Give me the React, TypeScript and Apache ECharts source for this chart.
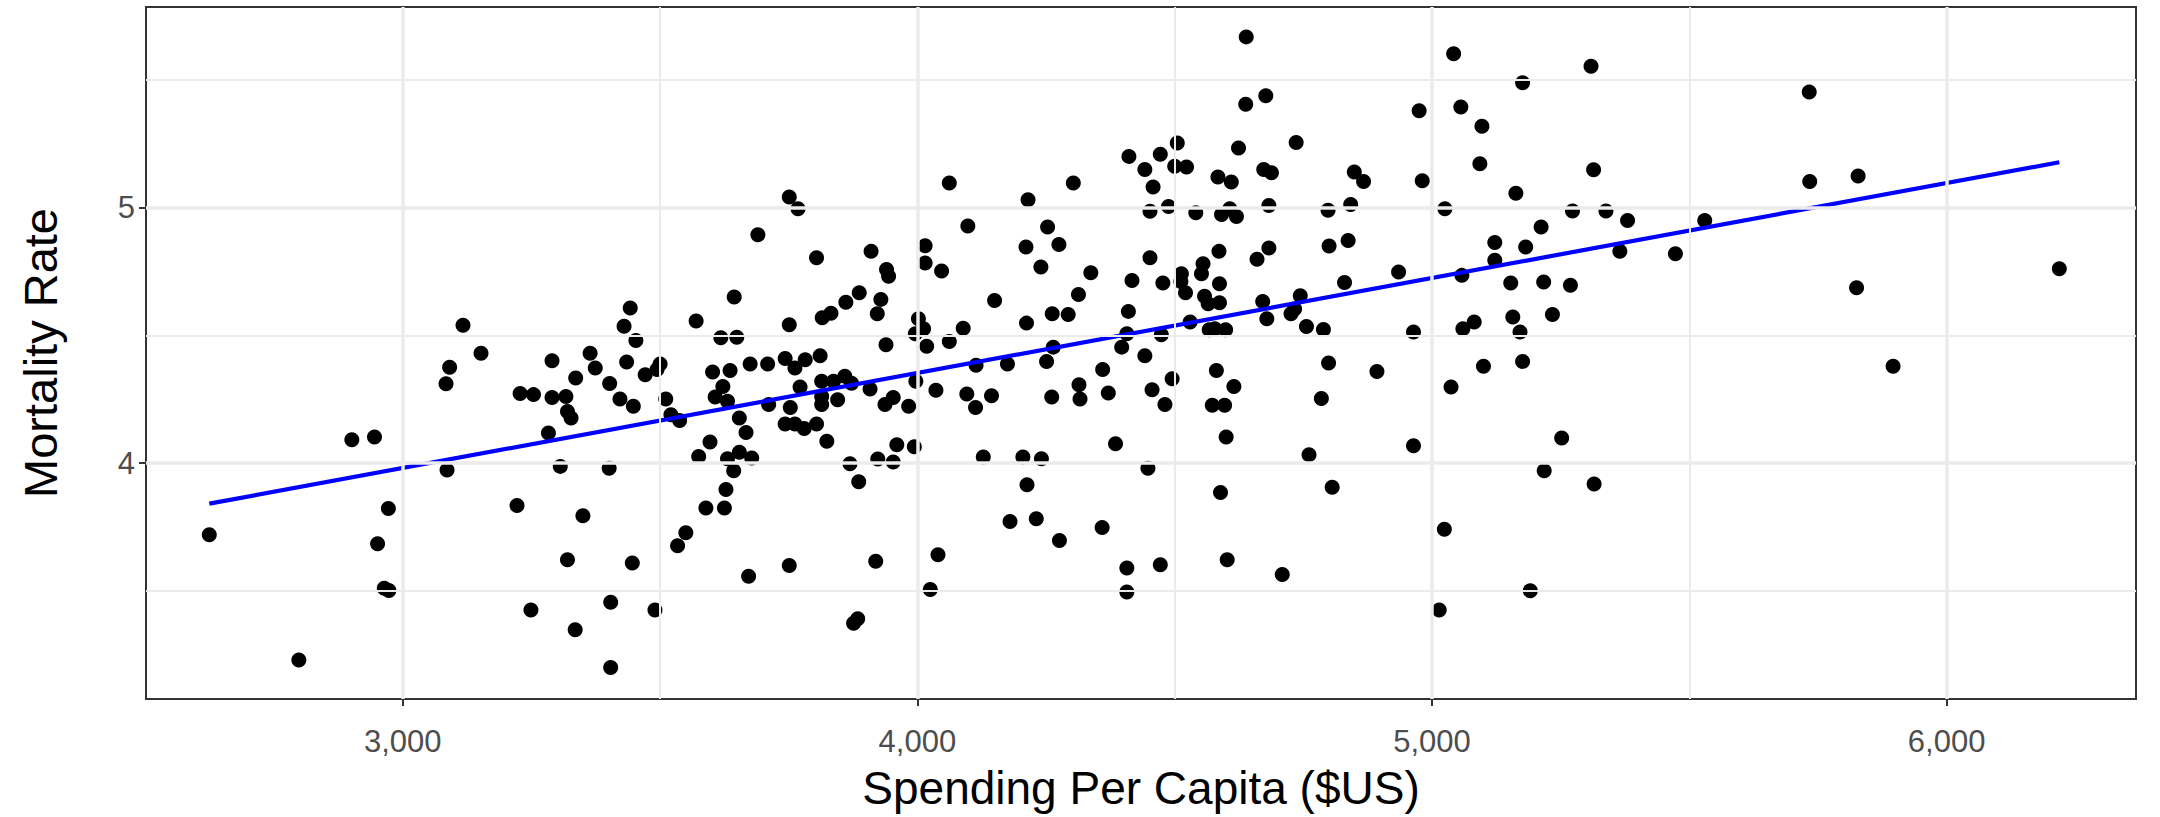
import React, { useEffect, useRef } from "react";
import * as echarts from "echarts";

// Spending per capita ($US) and mortality rate
const spending = [
  3117, 3152, 3091, 3084, 2901, 2945, 3086, 2972, 2951, 2964, 2973, 2624, 2798,
  3751, 3768, 3690, 3644, 3570, 3751, 3618, 3649, 3442, 3430, 3453,
  3364, 3290, 3374, 3435, 3336, 3228, 3254, 3290, 3317, 3402, 3422, 3448, 3471, 3494, 3500,
  3320, 3327, 3283, 3511, 3521, 3538, 3602, 3636, 3675, 3709, 3743, 3762, 3782, 3622, 3607,
  3631, 3654, 3667, 3711, 3753, 3772, 3743, 3762, 3780, 3597, 3575, 3631, 3654, 3678, 3643,
  3628, 3589, 3625, 3306, 3401, 3222, 3350, 3550, 3534, 3320, 3446, 3672, 3751, 3249, 3404,
  3490, 3335, 3404,
  4062, 4215, 4303, 4411, 4098, 4253, 4211, 4275, 4240, 4015, 4015, 4047, 3804, 3910, 3940,
  3944, 3887, 3861, 3929, 3922, 3832, 3815, 4150, 4337, 4313, 4417, 4410, 4212, 4262, 4293,
  4002, 4012, 3996, 4089, 4062, 4018, 3939, 3811, 4407, 4397, 4264,
  3814, 3837, 3859, 3872, 3814, 3814, 3845, 3908, 3937, 3953, 3983, 3997, 4036, 3804, 3824,
  3869, 3886, 3923, 3953, 3960, 3994, 4096, 4113, 4144, 4114, 4175, 4251, 4261, 4314, 4316,
  4360, 4371, 4385, 4128, 4205, 4241, 4213, 4180, 4231, 4276, 4359, 4407, 4407, 3919, 4040,
  4025, 3876, 3884,
  4639, 5042, 4677, 4638, 4975, 5056, 4505, 4472, 4442, 4500, 4523, 4624, 4736, 4458, 4584,
  4610, 4673, 4688, 4849, 4867, 4981, 4452, 4488, 4541, 4591, 4607, 4620, 4683, 4798, 4842,
  5025, 4452, 4586, 4555, 4552, 4513, 4512, 4521, 4477, 4587, 4558, 4565, 4587, 4660, 4683,
  4800, 4837, 4671, 4679, 4744, 4733, 4726, 4756, 4789, 4830, 4935, 5058, 4964, 5060, 4530,
  4474, 4567, 4578, 4599, 4442,
  4495, 4456, 4481, 4581, 4615, 4573, 4597, 4600, 4448, 4799, 4893, 4785, 4761, 4964, 5037,
  4589, 4806, 5024, 4472, 4602, 4709, 5014,
  5309, 5176, 5097, 5093, 5314, 5163, 5273, 5338, 5380, 5530, 5212, 5122, 5182, 5122, 5365,
  5473, 5153, 5217, 5269, 5082, 5157, 5234, 5171,
  5100, 5176, 5252, 5218, 5315, 5191,
  5733, 5734, 5828, 5825, 6219, 5896,
];

const mortality = [
  4.54, 4.43, 4.375, 4.311, 4.091, 4.102, 3.973, 3.822, 3.684, 3.51, 3.501, 3.719, 3.229,
  5.042, 4.996, 4.894, 4.65, 4.556, 4.542, 4.491, 4.493, 4.607, 4.536, 4.48,
  4.43, 4.401, 4.372, 4.396, 4.333, 4.272, 4.268, 4.257, 4.261, 4.312, 4.251, 4.222, 4.346, 4.366, 4.388,
  4.202, 4.176, 4.118, 4.251, 4.189, 4.167, 4.357, 4.362, 4.388, 4.388, 4.409, 4.372, 4.405, 4.3, 4.259,
  4.242, 4.176, 4.12, 4.229, 4.218, 4.298, 4.153, 4.153, 4.135, 4.082, 4.026, 4.017, 4.042, 4.02, 3.97,
  3.896, 3.824, 3.824, 3.987, 3.98, 3.834, 3.794, 3.727, 3.676, 3.621, 3.609, 3.557, 3.599, 3.425, 3.455,
  3.425, 3.347, 3.199,
  5.097, 5.031, 5.097, 5.201, 4.928, 4.924, 4.846, 4.856, 4.768, 4.851, 4.783, 4.752, 4.804, 4.829, 4.758,
  4.732, 4.667, 4.63, 4.641, 4.585, 4.587, 4.569, 4.637, 4.745, 4.66, 4.715, 4.594, 4.548, 4.585, 4.582,
  4.565, 4.526, 4.506, 4.528, 4.476, 4.457, 4.463, 4.42, 4.506, 4.454, 4.454,
  4.32, 4.32, 4.34, 4.313, 4.261, 4.229, 4.248, 4.29, 4.229, 4.257, 4.222, 4.32, 4.285, 4.153, 4.085,
  3.997, 3.927, 4.016, 4.004, 4.072, 4.064, 4.27, 4.218, 4.264, 4.383, 4.388, 4.398, 4.259, 4.307, 4.251,
  4.366, 4.274, 4.076, 4.024, 4.024, 4.017, 3.915, 3.771, 3.782, 3.697, 3.748, 3.589, 3.495, 3.615, 3.641,
  3.505, 3.373, 3.39,
  5.669, 5.603, 5.438, 5.405, 5.38, 5.394, 5.253, 5.209, 5.15, 5.162, 5.159, 5.234, 5.255, 5.081, 5.12,
  5.101, 5.15, 5.137, 5.14, 5.103, 5.106, 4.986, 5.005, 4.98, 4.973, 4.996, 4.966, 5.009, 4.99, 5.013,
  4.996, 4.804, 4.829, 4.781, 4.741, 4.741, 4.711, 4.667, 4.705, 4.702, 4.653, 4.624, 4.628, 4.798, 4.842,
  4.85, 4.872, 4.633, 4.565, 4.655, 4.603, 4.585, 4.535, 4.523, 4.707, 4.748, 4.735, 4.513, 4.526, 4.552,
  4.502, 4.522, 4.526, 4.522, 4.42,
  4.33, 4.287, 4.229, 4.362, 4.3, 4.226, 4.226, 4.102, 3.98, 4.392, 4.359, 4.253, 4.033, 4.068, 4.298,
  3.885, 3.905, 3.741, 3.602, 3.621, 3.564, 3.425,
  5.554, 5.489, 5.319, 5.172, 5.149, 5.057, 4.987, 4.987, 4.95, 4.95, 4.924, 4.864, 4.846, 4.794, 4.829,
  4.82, 4.705, 4.709, 4.696, 4.552, 4.572, 4.582, 4.513,
  4.379, 4.398, 4.098, 3.97, 3.918, 3.5,
  5.453, 5.103, 5.124, 4.687, 4.761, 4.379,
];

// Fitted regression line (end points)
const fitSpending = [2624, 6219];
const fitMortality = [3.841, 5.178];

// Axes
const xRange = [2501, 6368];
const yRange = [3.076, 5.786];
const xTicks = [3000, 4000, 5000, 6000];
const xMinor = [3500, 4500, 5500];
const yTicks = [4, 5];
const yMinor = [3.5, 4.5, 5.5];

const FONT = "'Liberation Sans', Arial, Helvetica, sans-serif";

export default function App() {
  const ref = useRef<HTMLDivElement>(null);

  useEffect(() => {
    if (!ref.current) return;
    const chart = echarts.init(ref.current, null, { renderer: "svg" });

    const points = spending.map((x, i) => [x, mortality[i]]);
    const fit = fitSpending.map((x, i) => [x, fitMortality[i]]);

    const gridLines = [
      ...xTicks.map((v) => ({ xAxis: v, lineStyle: { width: 3.5 } })),
      ...xMinor.map((v) => ({ xAxis: v, lineStyle: { width: 2 } })),
      ...yTicks.map((v) => ({ yAxis: v, lineStyle: { width: 3.5 } })),
      ...yMinor.map((v) => ({ yAxis: v, lineStyle: { width: 2 } })),
    ];

    chart.setOption({
      animation: false,
      backgroundColor: "#ffffff",
      grid: {
        left: 146,
        right: 24,
        top: 7,
        bottom: 118,
        show: true,
        borderColor: "#333333",
        borderWidth: 2,
        backgroundColor: "#ffffff",
        containLabel: false,
        outerBoundsMode: "none",
      },
      xAxis: {
        type: "value",
        min: xRange[0],
        max: xRange[1],
        name: "Spending Per Capita ($US)",
        nameLocation: "middle",
        nameGap: 66,
        nameTextStyle: { fontFamily: FONT, fontSize: 46, color: "#000000", lineHeight: 46 },
        axisLine: { show: false, onZero: false },
        axisTick: {
          show: true,
          length: 7,
          customValues: xTicks,
          lineStyle: { color: "#333333", width: 2 },
        },
        axisLabel: {
          customValues: xTicks,
          margin: 27,
          fontFamily: FONT,
          fontSize: 31,
          color: "#4D4D4D",
          formatter: (v: number) => v.toLocaleString("en-US"),
        },
        splitLine: { show: false },
      },
      yAxis: {
        type: "value",
        min: yRange[0],
        max: yRange[1],
        name: "Mortality Rate",
        nameLocation: "middle",
        nameRotate: 90,
        nameGap: 82,
        nameTextStyle: { fontFamily: FONT, fontSize: 47, color: "#000000" },
        axisLine: { show: false, onZero: false },
        axisTick: {
          show: true,
          length: 7,
          customValues: yTicks,
          lineStyle: { color: "#333333", width: 2 },
        },
        axisLabel: {
          customValues: yTicks,
          margin: 11,
          fontFamily: FONT,
          fontSize: 31,
          color: "#4D4D4D",
          formatter: (v: number) => String(v),
        },
        splitLine: { show: false },
      },
      series: [
        {
          name: "grid",
          type: "scatter",
          data: [],
          z: 1,
          silent: true,
          markLine: {
            silent: true,
            symbol: ["none", "none"],
            label: { show: false },
            emphasis: { disabled: true },
            lineStyle: { color: "#EBEBEB", type: "solid" },
            data: gridLines,
          },
        },
        {
          name: "points",
          type: "scatter",
          data: points,
          z: 3,
          symbol: "circle",
          symbolSize: 15,
          itemStyle: { color: "#000000", opacity: 1 },
        },
        {
          name: "fit",
          type: "line",
          data: fit,
          z: 4,
          symbol: "none",
          lineStyle: { color: "#0000FF", width: 4.2 },
        },
      ],
    });

    return () => chart.dispose();
  }, []);

  return (
    <div
      ref={ref}
      style={{ position: "absolute", left: 0, top: 0, width: 2160, height: 817 }}
    />
  );
}
